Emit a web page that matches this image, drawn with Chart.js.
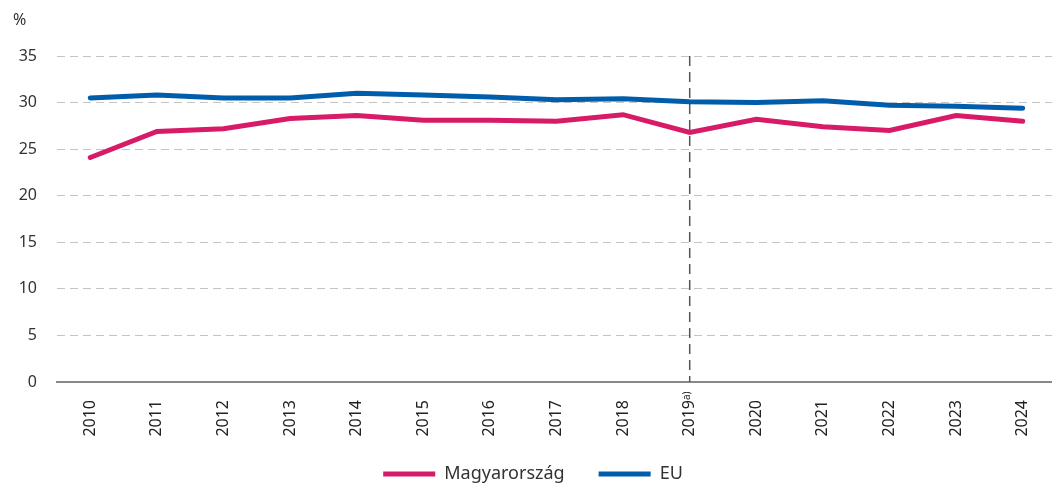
<!DOCTYPE html>
<html>
<head>
<meta charset="utf-8">
<script src="https://cdn.jsdelivr.net/npm/chart.js@4/dist/chart.umd.min.js"></script>
<style>
  html, body { margin: 0; padding: 0; background: #fff; }
  #wrap { width: 1052px; height: 484px; }
</style>
</head>
<body>
<div id="wrap"><canvas id="chart" width="1052" height="484"></canvas></div>
<script>
// Évek és értékek (%)
const years = ["2010", "2011", "2012", "2013", "2014", "2015", "2016", "2017", "2018", "2019", "2020", "2021", "2022", "2023", "2024"];
const hungary = [24.1, 26.9, 27.2, 28.3, 28.6, 28.1, 28.1, 28.0, 28.7, 26.8, 28.2, 27.4, 27.0, 28.6, 28.0];
const eu = [30.5, 30.8, 30.5, 30.5, 31.0, 30.8, 30.6, 30.3, 30.4, 30.1, 30.0, 30.2, 29.7, 29.6, 29.4];
const yTicks = [0, 5, 10, 15, 20, 25, 30, 35];
const breakYear = "2019";

const fontFamily = "'Noto Sans', 'Open Sans', sans-serif";

// Törésvonal 2019-nél, "a)" felső index és "%" felirat
const extras = {
  id: "extras",
  afterInit(chart) {
    // a jelmagyarázat kisebb helyet kapjon
    const legend = chart.legend;
    const origFit = legend.fit;
    legend.fit = function () {
      origFit.call(this);
      this.height = 42;
    };
  },
  afterLayout(chart) {
    // a rajzterület túlnyúlik a jobb szélen, mint az eredetin
    const x = chart.scales.x;
    const extra = 1056 - x.right;
    x.right += extra;
    x.width = x.right - x.left;
    x.configure();
    chart.chartArea.right += extra;
    chart.chartArea.width += extra;
    // jelmagyarázat finom igazítása
    chart.legend.top -= 11;
    chart.legend.left += 7;
    chart.legend.right += 7;
  },
  beforeDatasetsDraw(chart) {
    const { ctx, chartArea, scales } = chart;
    const x = scales.x.getPixelForValue(years.indexOf(breakYear));
    ctx.save();
    ctx.strokeStyle = "#555";
    ctx.lineWidth = 1.5;
    ctx.setLineDash([10, 6]);
    ctx.beginPath();
    ctx.moveTo(x, chartArea.top);
    ctx.lineTo(x, chartArea.bottom);
    ctx.stroke();
    ctx.restore();
  },
  afterDraw(chart) {
    const { ctx, scales } = chart;
    const x = scales.x.getPixelForValue(years.indexOf(breakYear));
    ctx.save();
    ctx.fillStyle = "#333";
    ctx.font = "16px " + fontFamily;
    ctx.textBaseline = "middle";
    ctx.fillText("%", 13, 20);
    // felső index a forgatott címkéhez
    ctx.fillStyle = "#222";
    ctx.translate(x - 3, 400);
    ctx.rotate(-Math.PI / 2);
    ctx.font = "10px " + fontFamily;
    ctx.textAlign = "left";
    ctx.textBaseline = "middle";
    ctx.fillText("a)", 0, 0);
    ctx.restore();
  }
};

new Chart(document.getElementById("chart").getContext("2d"), {
  type: "line",
  data: {
    labels: years,
    datasets: [
      {
        label: "Magyarország",
        data: hungary,
        borderColor: "#d81b66",
        backgroundColor: "#d81b66",
        borderWidth: 5,
        borderCapStyle: "round",
        pointRadius: 0,
        tension: 0
      },
      {
        label: "EU",
        data: eu,
        borderColor: "#005dab",
        backgroundColor: "#005dab",
        borderWidth: 5,
        borderCapStyle: "round",
        pointRadius: 0,
        tension: 0
      }
    ]
  },
  options: {
    responsive: false,
    animation: false,
    layout: { padding: { top: 56, left: 0, right: 0, bottom: 0 } },
    plugins: {
      tooltip: { enabled: false },
      legend: {
        position: "bottom",
        labels: {
          usePointStyle: true,
          pointStyle: "line",
          pointStyleWidth: 52,
          boxHeight: 16,
          padding: 34,
          color: "#333",
          font: { family: fontFamily, size: 18 }
        }
      }
    },
    scales: {
      x: {
        offset: true,
        grid: { display: false, drawTicks: false },
        border: { display: true, color: "#888", width: 2 },
        ticks: {
          maxRotation: 90,
          minRotation: 90,
          padding: 18,
          color: "#222",
          font: { family: fontFamily, size: 16 }
        },
        afterFit(scale) { scale.height = 60; }
      },
      y: {
        min: 0,
        max: 35,
        afterBuildTicks(scale) { scale.ticks = yTicks.map(v => ({ value: v })); },
        grid: { color: "#c4c4c4", lineWidth: 1, drawTicks: false },
        border: { display: false, dash: [8, 5] },
        ticks: {
          padding: 20,
          color: "#333",
          font: { family: fontFamily, size: 16 }
        },
        afterFit(scale) { scale.width = 57; }
      }
    }
  },
  plugins: [extras]
});
</script>
</body>
</html>
